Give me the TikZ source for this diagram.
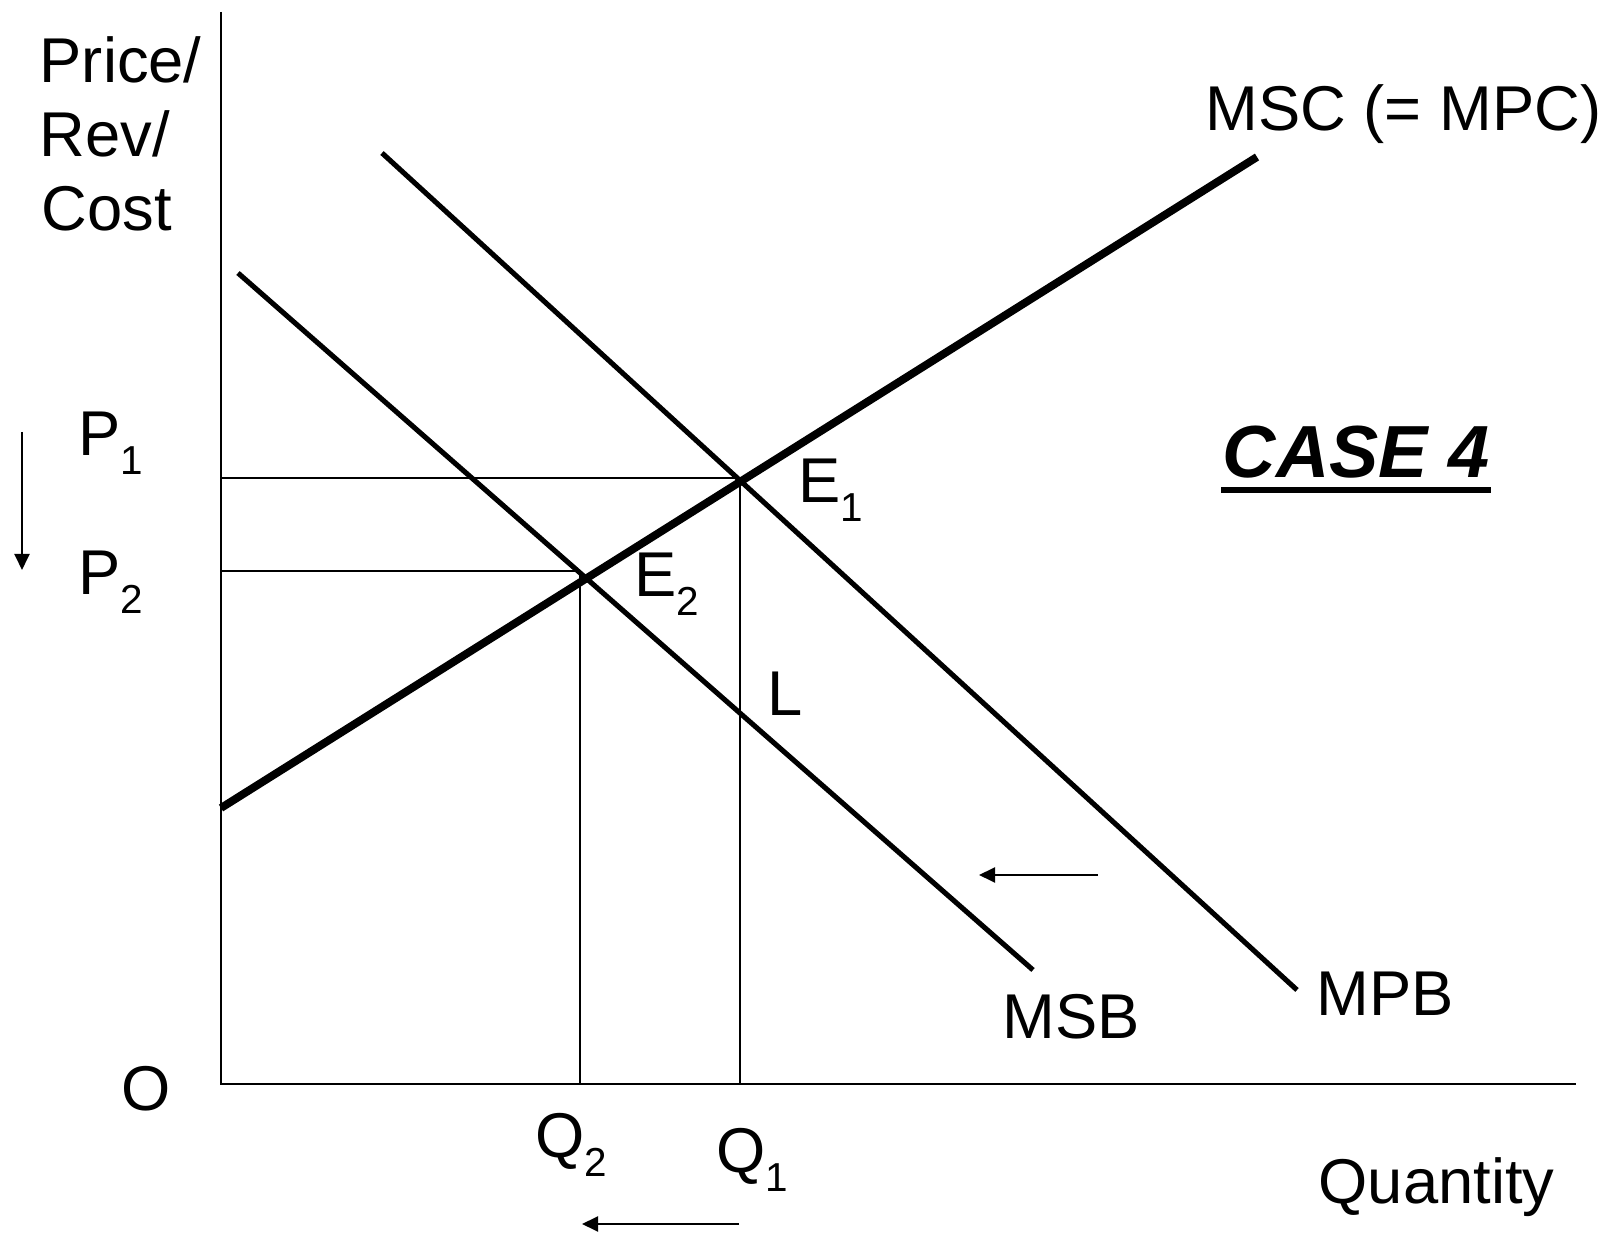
\documentclass[tikz,border=0pt]{standalone}
\usepackage{fontspec}
\setmainfont{Liberation Sans}
\usetikzlibrary{arrows.meta}
\newcommand{\lblsub}[2]{#1\raisebox{-5.3pt}{\fontsize{11.5}{13}\selectfont #2}}
\begin{document}
\begin{tikzpicture}[x=0.01cm,y=-0.01cm,
  txt/.style={inner sep=0pt,anchor=base west,font=\fontsize{18}{22}\selectfont},
  axisline/.style={line width=0.55pt},
  guide/.style={line width=0.5pt},
  curve/.style={line width=1.45pt},
  thickcurve/.style={line width=2.25pt},
  shift arrow/.style={line width=0.6pt,-{Triangle[length=4.6pt,width=4.3pt]}}]
\useasboundingbox (0,0) rectangle (1614,1240);
% coordinates
\coordinate (ytop) at (221,12);
\coordinate (orig) at (221,1084);
\coordinate (xend) at (1576,1084);
\coordinate (msc0) at (221,808);
\coordinate (msc1) at (1257,157);
\coordinate (mpb0) at (382,153);
\coordinate (mpb1) at (1297,990);
\coordinate (msb0) at (238,273);
\coordinate (msb1) at (1033,970);
\coordinate (e1) at (740,478);
\coordinate (e2) at (580,571);
\coordinate (p1) at (221,478);
\coordinate (p2) at (221,571);
\coordinate (q1) at (740,1084);
\coordinate (q2) at (580,1084);
\coordinate (la0) at (22,432);
\coordinate (la1) at (22,570);
\coordinate (ba0) at (739,1224);
\coordinate (ba1) at (582,1224);
\coordinate (ma0) at (1098,875);
\coordinate (ma1) at (979,875);
\coordinate (ul0) at (1221,490);
\coordinate (ul1) at (1491,490);
% guides
\draw[guide] (p1) -- (e1) -- (q1);
\draw[guide] (p2) -- (e2) -- (q2);
% axes
\draw[axisline] (ytop) -- (orig) -- (xend);
% curves
\draw[curve] (mpb0) -- (mpb1);
\draw[curve] (msb0) -- (msb1);
\draw[thickcurve] (msc0) -- (msc1);
% arrows
\draw[shift arrow] (la0) -- (la1);
\draw[shift arrow] (ba0) -- (ba1);
\draw[shift arrow] (ma0) -- (ma1);
% labels
\node[txt] (lprice) at (39,83) {Price/};
\node[txt] (lrev) at (39,157) {Rev/};
\node[txt] (lcost) at (41,231) {Cost};
\node[txt] (lp1) at (78,456) {\lblsub{P}{1}};
\node[txt] (lp2) at (78,595) {\lblsub{P}{2}};
\node[txt] (lo) at (121,1111) {O};
\node[txt] (lq2) at (535,1158) {\lblsub{Q}{2}};
\node[txt] (lq1) at (716,1173) {\lblsub{Q}{1}};
\node[txt] (le1) at (798,503) {\lblsub{E}{1}};
\node[txt] (le2) at (634,597) {\lblsub{E}{2}};
\node[txt] (ll) at (767,716) {L};
\node[txt] (lmsc) at (1205,131) {MSC (= MPC)};
\node[txt] (lmsb) at (1002,1039) {MSB};
\node[txt] (lmpb) at (1316,1016) {MPB};
\node[txt] (lqty) at (1318,1204) {Quantity};
\node[txt,font=\fontsize{21}{25}\selectfont\bfseries\itshape] (lcase) at (1222,478) {CASE 4};
\draw[line width=1.7pt] (ul0) -- (ul1);
\end{tikzpicture}
\end{document}
